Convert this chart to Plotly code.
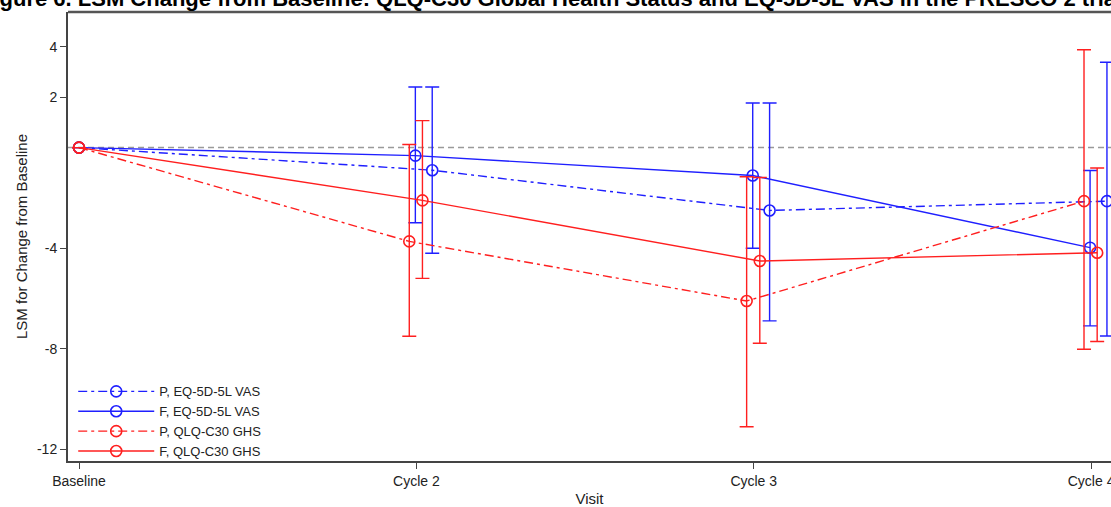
import plotly.graph_objects as go

visits = ["Baseline", "Cycle 2", "Cycle 3", "Cycle 4"]

# LSM change from baseline and 95% CI bounds
p_eq_mean = [0, -0.90, -2.50, -2.13]
p_eq_upper = [0, 2.41, 1.77, 3.39]
p_eq_lower = [0, -4.20, -6.89, -7.49]

f_eq_mean = [0, -0.32, -1.11, -3.98]
f_eq_upper = [0, 2.41, 1.77, -0.91]
f_eq_lower = [0, -2.99, -4.00, -7.09]

p_qlq_mean = [0, -3.73, -6.10, -2.13]
p_qlq_upper = [0, 0.12, -1.16, 3.89]
p_qlq_lower = [0, -7.50, -11.10, -8.02]

f_qlq_mean = [0, -2.10, -4.51, -4.18]
f_qlq_upper = [0, 1.07, -1.19, -0.81]
f_qlq_lower = [0, -5.20, -7.78, -7.71]

y_tickvals = [4, 2, -4, -8, -12]

BLUE = "#1f1fff"
RED = "#ff1f1f"
FONT = "Arial, Liberation Sans, sans-serif"

series = [
    ("P, EQ-5D-5L VAS", p_eq_mean, p_eq_upper, p_eq_lower, BLUE, "9px,4px,3px,4px", 0.047),
    ("F, EQ-5D-5L VAS", f_eq_mean, f_eq_upper, f_eq_lower, BLUE, "solid", -0.003),
    ("P, QLQ-C30 GHS", p_qlq_mean, p_qlq_upper, p_qlq_lower, RED, "9px,4px,3px,4px", -0.021),
    ("F, QLQ-C30 GHS", f_qlq_mean, f_qlq_upper, f_qlq_lower, RED, "solid", 0.018),
]

fig = go.Figure()

# reference line at zero
fig.add_shape(type="line", xref="paper", yref="y", x0=0, x1=1, y0=0, y1=0,
              line=dict(color="#9a9a9a", width=1.5, dash="6px,4px"), layer="below")

for name, mean, up, lo, color, dash, off in series:
    xs = [i + (off if i > 0 else 0) for i in range(len(visits))]
    plus = [u - m for u, m in zip(up, mean)]
    minus = [m - l for m, l in zip(mean, lo)]
    fig.add_trace(go.Scatter(
        x=xs, y=mean, name=name, mode="lines+markers",
        line=dict(color=color, width=1.4, dash=dash),
        marker=dict(symbol="circle-open", size=11, color=color, line=dict(width=1.6, color=color)),
        error_y=dict(type="data", symmetric=False, array=plus, arrayminus=minus,
                     color=color, thickness=1.4, width=7),
    ))

# top frame line
fig.add_shape(type="line", xref="paper", yref="paper", x0=0, x1=1, y0=1, y1=1,
              line=dict(color="#555555", width=2.5))

# cut-off title
fig.add_annotation(
    text="<b>Figure 6. LSM Change from Baseline: QLQ-C30 Global Health Status and EQ-5D-5L VAS in the PRESCO 2 trial</b>",
    xref="paper", yref="paper", x=0.463, y=1, xanchor="center", yanchor="bottom",
    yshift=-1, showarrow=False, font=dict(family=FONT, size=22, color="black"))

fig.update_layout(
    width=1111, height=507,
    margin=dict(l=68, r=0, t=12, b=46),
    plot_bgcolor="white", paper_bgcolor="white",
    font=dict(family=FONT, color="#222222"),
    showlegend=True,
    legend=dict(x=0.005, y=-0.012, xanchor="left", yanchor="bottom",
                bgcolor="rgba(0,0,0,0)", borderwidth=0,
                font=dict(family=FONT, size=13, color="#222222"),
                itemwidth=76, tracegroupgap=0),
    xaxis=dict(
        range=[-0.0326, 3.059], automargin=False,
        tickvals=list(range(len(visits))), ticktext=visits,
        ticklabeloverflow="allow",
        showgrid=False, zeroline=False,
        showline=True, linecolor="#444444", linewidth=2,
        ticks="outside", ticklen=6, tickwidth=1.2, tickcolor="#444444",
        tickfont=dict(family=FONT, size=14, color="#222222"),
        title=dict(text="Visit", font=dict(family=FONT, size=15, color="#222222"), standoff=6),
    ),
    yaxis=dict(
        range=[-12.46, 5.39], automargin=False,
        tickvals=y_tickvals, ticktext=[str(v) for v in y_tickvals],
        showgrid=False, zeroline=False,
        showline=True, linecolor="#444444", linewidth=2,
        ticks="outside", ticklen=6, tickwidth=1.2, tickcolor="#444444",
        tickfont=dict(family=FONT, size=14, color="#222222"),
        title=dict(text="LSM for Change from Baseline", font=dict(family=FONT, size=15, color="#222222"), standoff=6),
    ),
)

fig.write_html("out.html", config={"displayModeBar": False},
               post_script="document.body.style.margin='0';")
